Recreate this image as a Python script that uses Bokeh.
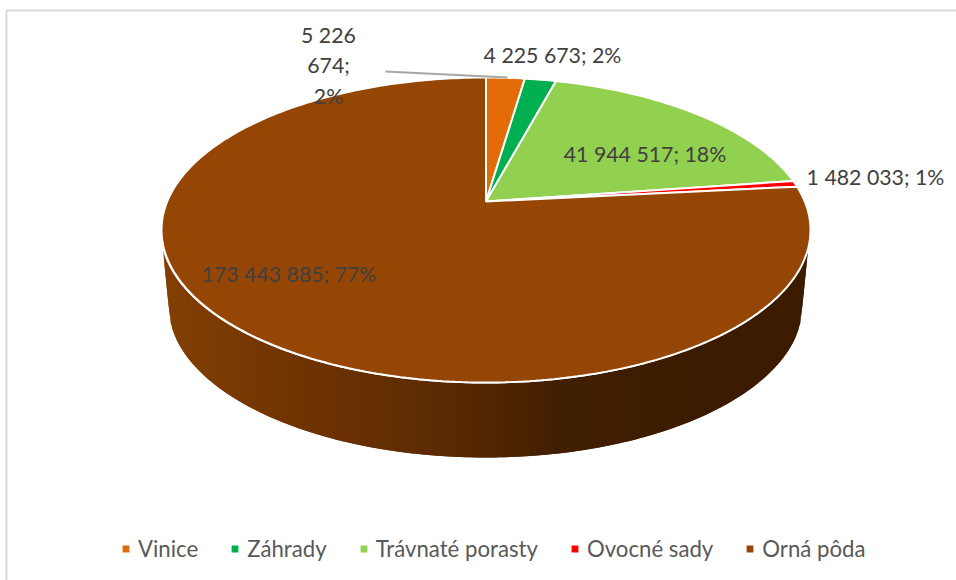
import numpy as np
from bokeh.plotting import figure
from bokeh.models import Legend, LegendItem, ColumnDataSource
from bokeh.core.properties import value
from bokeh.embed import file_html
from bokeh.resources import INLINE

categories = ["Vinice", "Záhrady", "Trávnaté porasty", "Ovocné sady", "Orná pôda"]
areas = [5226674, 4225673, 41944517, 1482033, 173443885]
shares = ["2%", "2%", "18%", "1%", "77%"]
colors = ["#E36C09", "#00B050", "#92D050", "#FF0000", "#954605"]
area_labels = ["5 226\n674;\n2%", "4 225 673; 2%", "41 944 517; 18%", "1 482 033; 1%", "173 443 885; 77%"]

# label anchors (page pixels)
label_x = [328, 552, 644.5, 875, 288.5]
label_y = [65, 54, 153.5, 176.5, 273]

# pie geometry (page pixels)
AX, AY = 485.5, 201        # projected centre of the pie
UP, DOWN = 124, 181
C = (DOWN - UP) / (DOWN + UP)
A = UP * (1 + C)
RX = 324.5
D = RX * np.sqrt(1 - C * C)
TOP_CY, TOP_RY = 229.5, 152.5
BOT_CY, BOT_RX, BOT_RY = 305, 317, 152
CX = 485

wall_stops_x = [162, 300, 440, 560, 680, 808]
wall_stops_rgb = [(131, 64, 4), (112, 52, 3), (92, 43, 3), (66, 31, 1), (62, 28, 1), (60, 27, 1)]


def project(theta):
    u, v = np.sin(theta), np.cos(theta)
    w = 1 + C * v
    return AX + D * u / w, AY - A * v / w


p = figure(width=956, height=580, x_range=(0, 956), y_range=(580, 0),
           output_backend="svg", toolbar_location=None, min_border=0,
           background_fill_color="white", border_fill_color="white", outline_line_color=None)
p.xaxis.visible = False
p.yaxis.visible = False
p.xgrid.visible = False
p.ygrid.visible = False

# chart frame (top and left only are visible in the reference)
p.line([6, 6, 956], [580, 10, 10], line_color="#D9D9D9", line_width=2)

# side wall: vertical strips shading from left to right
edges = np.arange(162, 809, 2.0)


def top_y(x):
    return TOP_CY + TOP_RY * np.sqrt(np.clip(1 - ((x - CX) / RX) ** 2, 0, 1))


def bot_y(x):
    t = np.clip(1 - ((x - CX) / BOT_RX) ** 2, 0, 1)
    y = BOT_CY + BOT_RY * np.sqrt(t)
    if x < CX - BOT_RX:
        return np.interp(x, [162, CX - BOT_RX], [top_y(162), BOT_CY])
    if x > CX + BOT_RX:
        return np.interp(x, [CX + BOT_RX, 808], [BOT_CY, top_y(808)])
    return y


# strips overlap their right neighbour, so no seams show between them
xs, ys, cs = [], [], []
for a, b in zip(edges[:-1], edges[1:]):
    c = min(b + 2, 808.0)
    xs.append([a, c, c, a])
    ys.append([top_y(a) - 1, top_y(c) - 1, bot_y(c), bot_y(a)])
    m = (a + b) / 2
    rgb = [int(np.interp(m, wall_stops_x, [s[i] for s in wall_stops_rgb])) for i in range(3)]
    cs.append("#%02x%02x%02x" % tuple(rgb))
p.patches(xs=xs, ys=ys, fill_color=cs, line_color=None)

# white rim between top face and wall
rim = np.arange(162, 809, 2.0)
p.line(rim, [top_y(x) for x in rim], line_color="white", line_width=2)

# wedges of the top face
fr = np.array(areas) / sum(areas)
cum = np.concatenate([[0], np.cumsum(fr)]) * 2 * np.pi
items = []
for i in range(len(areas)):
    n = max(4, int(fr[i] * 400))
    th = np.linspace(cum[i], cum[i + 1], n)
    ex, ey = project(th)
    r = p.patch(np.concatenate([[AX], ex]), np.concatenate([[AY], ey]),
                fill_color=colors[i], line_color="white", line_width=2)
    items.append(LegendItem(label=categories[i], renderers=[r]))

# leader line of the first label
p.line([385, 507], [71, 77], line_color="#A6A6A6", line_width=2)

src = ColumnDataSource(dict(x=label_x, y=label_y, t=area_labels))
p.text("x", "y", text="t", source=src, text_font=value("Lato"), text_font_size="21.3px",
       text_color="#404040", text_align="center", text_baseline="middle", text_line_height=1.18)

legend = Legend(items=items, orientation="horizontal", location=(120, 18),
                border_line_color=None, background_fill_color=None, background_fill_alpha=0,
                label_text_font="Lato", label_text_font_size="22.2px", label_text_color="#595959",
                glyph_width=11, glyph_height=11, label_standoff=7, spacing=31, padding=0, margin=0)
p.add_layout(legend, "center")

open("out.html", "w").write(file_html(p, INLINE))
